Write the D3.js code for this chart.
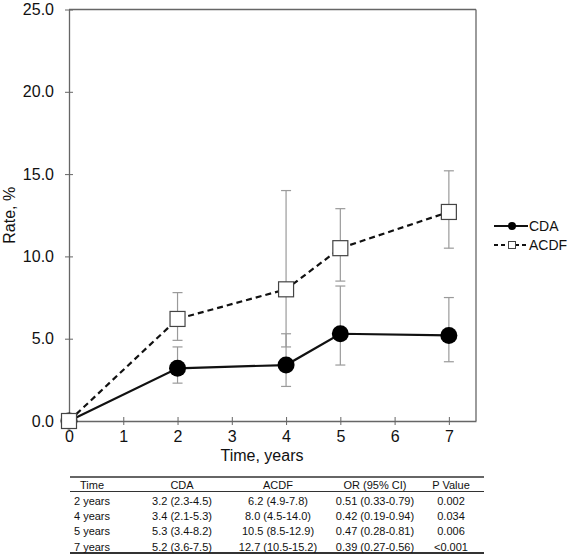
<!DOCTYPE html>
<html><head><meta charset="utf-8">
<script src="https://cdn.jsdelivr.net/npm/d3@7"></script>
<style>body{margin:0;background:#fff}svg{display:block}text{font-family:"Liberation Sans",Arial,Helvetica,sans-serif;fill:#111}</style>
</head><body>
<script>
const years = [0, 2, 4, 5, 7];
const cdaRate = [0, 3.2, 3.4, 5.3, 5.2];
const cdaLow = [null, 2.3, 2.1, 3.4, 3.6];
const cdaHigh = [null, 4.5, 5.3, 8.2, 7.5];
const acdfRate = [0, 6.2, 8.0, 10.5, 12.7];
const acdfLow = [null, 4.9, 4.5, 8.5, 10.5];
const acdfHigh = [null, 7.8, 14.0, 12.9, 15.2];
const xTicks = [0, 1, 2, 3, 4, 5, 6, 7];
const yTicks = [0, 5, 10, 15, 20, 25];
const orVal = [0.51, 0.42, 0.47, 0.39];
const orLow = [0.33, 0.19, 0.28, 0.27];
const orHigh = [0.79, 0.94, 0.81, 0.56];
const pValues = ["0.002", "0.034", "0.006", "<0.001"];
const tableHeaders = ["Time", "CDA", "ACDF", "OR (95% CI)", "P Value"];

const W = 576, H = 555;
const svg = d3.select("body").append("svg").attr("width", W).attr("height", H);
const x = d3.scaleLinear().domain([0, 7.5]).range([69, 476]);
const y = d3.scaleLinear().domain([0, 25]).range([421, 9.5]);
const axisColor = "#666";

// box top/right
svg.append("line").attr("x1", x(0)).attr("x2", x(7.5)).attr("y1", y(25)).attr("y2", y(25)).attr("stroke", axisColor).attr("stroke-width", 1.3);
svg.append("line").attr("x1", x(7.5)).attr("x2", x(7.5)).attr("y1", y(25)).attr("y2", y(0)).attr("stroke", axisColor).attr("stroke-width", 1.3);

const xAxis = svg.append("g").attr("transform", `translate(0,${y(0)})`)
  .call(d3.axisBottom(x).tickValues(xTicks).tickFormat(d3.format("d")).tickSizeOuter(0).tickSizeInner(4).tickPadding(8));
xAxis.select(".domain").attr("stroke", axisColor).attr("stroke-width", 1.3);
xAxis.selectAll(".tick line").attr("y1", -4).attr("y2", 4).attr("stroke", axisColor);
xAxis.selectAll(".tick text").attr("font-size", 16).attr("fill", "#111").attr("dy", "0.75em").attr("y", 9);

const yAxis = svg.append("g").attr("transform", `translate(${x(0)},0)`)
  .call(d3.axisLeft(y).tickValues(yTicks).tickFormat(d3.format(".1f")).tickSizeOuter(0).tickSizeInner(4).tickPadding(11));
yAxis.select(".domain").attr("stroke", axisColor).attr("stroke-width", 1.3);
yAxis.selectAll(".tick line").attr("x1", -4).attr("x2", 4).attr("stroke", axisColor);
yAxis.selectAll(".tick text").attr("font-size", 16).attr("fill", "#111");
svg.selectAll(".tick text").style("font-family", '"Liberation Sans",Arial,sans-serif');

svg.append("text").attr("transform", `translate(15,${(y(0)+y(25))/2}) rotate(-90)`).attr("text-anchor", "middle").attr("font-size", 16).text("Rate, %");
svg.append("text").attr("x", 262).attr("y", 461).attr("text-anchor", "middle").attr("font-size", 16).text("Time, years");

// error bars
function errBars(low, high) {
  years.forEach((t, i) => {
    if (low[i] == null) return;
    const g = svg.append("g").attr("stroke", "#9a9a9a").attr("stroke-width", 1.2);
    g.append("line").attr("x1", x(t)).attr("x2", x(t)).attr("y1", y(low[i])).attr("y2", y(high[i]));
    [low[i], high[i]].forEach(v => g.append("line").attr("x1", x(t)-5).attr("x2", x(t)+5).attr("y1", y(v)).attr("y2", y(v)));
  });
}
errBars(cdaLow, cdaHigh);
errBars(acdfLow, acdfHigh);

const line = d3.line().x((d, i) => x(years[i])).y(d => y(d));
svg.append("path").datum(acdfRate).attr("d", line).attr("fill", "none").attr("stroke", "#111").attr("stroke-width", 2.2).attr("stroke-dasharray", "6,4");
svg.append("path").datum(cdaRate).attr("d", line).attr("fill", "none").attr("stroke", "#111").attr("stroke-width", 2.2);

svg.selectAll(".cda").data(cdaRate).enter().append("circle")
  .attr("cx", (d, i) => x(years[i])).attr("cy", d => y(d)).attr("r", 8.5).attr("fill", "#000");
svg.selectAll(".acdf").data(acdfRate).enter().append("rect")
  .attr("x", (d, i) => x(years[i]) - 7.5).attr("y", d => y(d) - 7.5).attr("width", 15).attr("height", 15)
  .attr("fill", "#fff").attr("stroke", "#444").attr("stroke-width", 1.2);

// legend
const lg = svg.append("g");
lg.append("line").attr("x1", 494).attr("x2", 528).attr("y1", 226).attr("y2", 226).attr("stroke", "#111").attr("stroke-width", 2);
lg.append("circle").attr("cx", 512).attr("cy", 226).attr("r", 4).attr("fill", "#000");
lg.append("text").attr("x", 529).attr("y", 231).attr("font-size", 14).text("CDA");
lg.append("line").attr("x1", 494).attr("x2", 528).attr("y1", 245).attr("y2", 245).attr("stroke", "#111").attr("stroke-width", 2).attr("stroke-dasharray", "4,3");
lg.append("rect").attr("x", 508.5).attr("y", 241.5).attr("width", 7).attr("height", 7).attr("fill", "#fff").attr("stroke", "#444").attr("stroke-width", 1);
lg.append("text").attr("x", 529).attr("y", 250).attr("font-size", 14).text("ACDF");

// table
const colX = [92, 182, 278, 375, 451];
const f1 = d3.format(".1f"), f2 = d3.format(".2f");
const rows = years.slice(1).map((t, k) => {
  const i = k + 1;
  return [`${t} years`,
    `${f1(cdaRate[i])} (${f1(cdaLow[i])}-${f1(cdaHigh[i])})`,
    `${f1(acdfRate[i])} (${f1(acdfLow[i])}-${f1(acdfHigh[i])})`,
    `${f2(orVal[k])} (${f2(orLow[k])}-${f2(orHigh[k])})`,
    pValues[k]];
});
const tb = svg.append("g");
tb.append("line").attr("x1", 70).attr("x2", 484).attr("y1", 477).attr("y2", 477).attr("stroke", "#333").attr("stroke-width", 1.4);
tb.append("line").attr("x1", 70).attr("x2", 484).attr("y1", 491.5).attr("y2", 491.5).attr("stroke", "#333").attr("stroke-width", 1.2);
tb.append("line").attr("x1", 70).attr("x2", 484).attr("y1", 553).attr("y2", 553).attr("stroke", "#333").attr("stroke-width", 2);
tableHeaders.forEach((h, j) => tb.append("text").attr("x", colX[j]).attr("y", 489).attr("text-anchor", "middle").attr("font-size", 11).text(h));
rows.forEach((r, k) => r.forEach((c, j) => tb.append("text").attr("x", colX[j]).attr("y", 505 + k * 15.2).attr("text-anchor", "middle").attr("font-size", 11).text(c)));
</script>
</body></html>
